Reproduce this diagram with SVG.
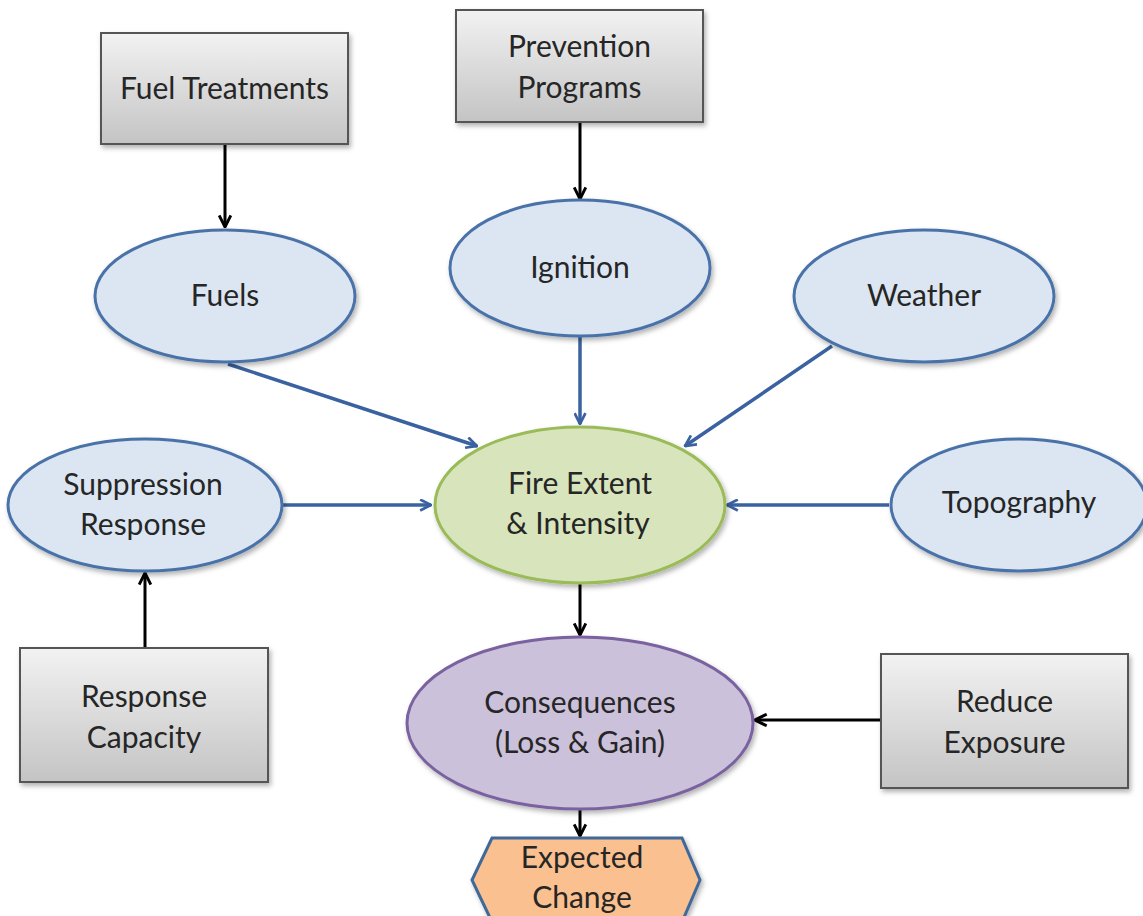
<svg xmlns="http://www.w3.org/2000/svg" width="1143" height="916" viewBox="0 0 1143 916">
<defs>
<linearGradient id="gray" x1="0" y1="0" x2="0" y2="1">
<stop offset="0" stop-color="#f2f2f2"/><stop offset="1" stop-color="#c4c4c4"/>
</linearGradient>
<filter id="sh" x="-10%" y="-10%" width="130%" height="130%">
<feDropShadow dx="2" dy="3" stdDeviation="2.5" flood-color="#000" flood-opacity="0.3"/>
</filter>
<marker id="ab" viewBox="0 0 12 12" refX="11" refY="6" markerWidth="13" markerHeight="13" markerUnits="userSpaceOnUse" orient="auto">
<path d="M1,1 L11,6 L1,11" fill="none" stroke="#3a62a0" stroke-width="2.5"/>
</marker>
<marker id="ak" viewBox="0 0 12 12" refX="11" refY="6" markerWidth="14" markerHeight="14" markerUnits="userSpaceOnUse" orient="auto">
<path d="M1,1 L11,6 L1,11" fill="none" stroke="#000" stroke-width="2.5"/>
</marker>
</defs>
<style>
text{font-family:"Lato","Open Sans","Liberation Sans",sans-serif;font-size:30px;fill:#262626;text-anchor:middle}
.box{fill:url(#gray);stroke:#555;stroke-width:2;filter:url(#sh)}
.blue{fill:#dce6f2;stroke:#4a72a8;stroke-width:3;filter:url(#sh)}
.green{fill:#d8e4bc;stroke:#9bbb59;stroke-width:3;filter:url(#sh)}
.purple{fill:#ccc1da;stroke:#7a62a0;stroke-width:3;filter:url(#sh)}
.orange{fill:#fac090;stroke:#3f6898;stroke-width:3;filter:url(#sh)}
.cb{stroke:#3a62a0;stroke-width:3.5;fill:none;marker-end:url(#ab)}
.ck{stroke:#000;stroke-width:3;fill:none;marker-end:url(#ak)}
</style>
<rect width="1143" height="916" fill="#fff"/>
<g id="connectors">
<line class="ck" x1="225" y1="145" x2="225" y2="227"/>
<line class="ck" x1="580" y1="123" x2="580" y2="199"/>
<line class="cb" x1="228" y1="364" x2="477" y2="446"/>
<line class="cb" x1="580" y1="337" x2="580" y2="424"/>
<line class="cb" x1="832" y1="346" x2="685" y2="446"/>
<line class="cb" x1="283" y1="505" x2="431" y2="505"/>
<line class="cb" x1="889" y1="505" x2="727" y2="505"/>
<line class="ck" x1="580" y1="584" x2="580" y2="635"/>
<line class="ck" x1="145" y1="647" x2="145" y2="573"/>
<line class="ck" x1="880" y1="720" x2="755" y2="720"/>
<line class="ck" x1="580" y1="810" x2="580" y2="836"/>
</g>
<g id="fuel-treatments">
<rect class="box" x="101" y="33" width="247" height="111"/>
<text x="224.5" y="99">Fuel Treatments</text>
</g>
<g id="prevention-programs">
<rect class="box" x="456" y="10" width="247" height="112"/>
<text x="579.5" y="57">Prevention</text>
<text x="579.5" y="98">Programs</text>
</g>
<g id="fuels">
<ellipse class="blue" cx="225" cy="296" rx="130" ry="66"/>
<text x="225" y="306">Fuels</text>
</g>
<g id="ignition">
<ellipse class="blue" cx="580" cy="268" rx="130" ry="68"/>
<text x="580" y="278">Ignition</text>
</g>
<g id="weather">
<ellipse class="blue" cx="924" cy="296" rx="130" ry="66"/>
<text x="924" y="306">Weather</text>
</g>
<g id="suppression-response">
<ellipse class="blue" cx="145" cy="505" rx="137" ry="66"/>
<text x="143" y="495">Suppression</text>
<text x="143" y="535">Response</text>
</g>
<g id="fire-extent">
<ellipse class="green" cx="580" cy="505" rx="145" ry="78"/>
<text x="580" y="494">Fire Extent</text>
<text x="578" y="534">&amp; Intensity</text>
</g>
<g id="topography">
<ellipse class="blue" cx="1019" cy="505" rx="128" ry="66"/>
<text x="1019" y="513">Topography</text>
</g>
<g id="response-capacity">
<rect class="box" x="20" y="648" width="248" height="134"/>
<text x="144" y="707">Response</text>
<text x="144" y="748">Capacity</text>
</g>
<g id="consequences">
<ellipse class="purple" cx="580" cy="723" rx="173" ry="86"/>
<text x="580" y="713">Consequences</text>
<text x="580" y="753">(Loss &amp; Gain)</text>
</g>
<g id="reduce-exposure">
<rect class="box" x="881" y="654" width="247" height="134"/>
<text x="1004.5" y="712">Reduce</text>
<text x="1004.5" y="753">Exposure</text>
</g>
<g id="expected-change">
<polygon class="orange" points="492,838 682,838 700,880 682,922 492,922 472,880"/>
<text x="582" y="868">Expected</text>
<text x="582" y="908">Change</text>
</g>
</svg>
